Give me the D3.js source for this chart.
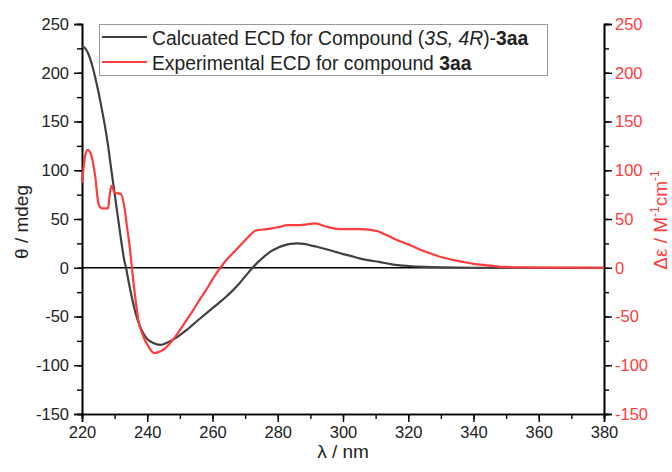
<!DOCTYPE html>
<html lang="en">
<head>
    <meta charset="UTF-8">
    <script src="https://cdn.jsdelivr.net/npm/d3@7/dist/d3.min.js"></script>
    <title>ECD spectra</title>
    <style>
        * { margin: 0; padding: 0; box-sizing: border-box; }
        body, html { width: 672px; height: 472px; background: #fff; }
        svg { font-family: "Liberation Sans", Arial, sans-serif; }
    </style>
</head>
<body>
    <svg id="chart" width="672" height="472"></svg>
    <script type="text/javascript">
      // calculated ECD, (3S,4R)-3aa  [wavelength nm, theta mdeg]
      var calcWl  = [220, 221, 222, 223, 224, 225, 226, 227, 228, 229, 230, 231, 232, 233, 233.5, 234, 235, 236, 237, 238, 239, 240, 242, 244, 246, 248, 250, 252, 254, 256, 258, 260, 262, 264, 266, 268, 270, 272, 274, 276, 278, 280, 282, 284, 286, 288, 290, 292, 294, 296, 298, 300, 302, 305, 308, 311, 315, 320, 325, 330, 340, 360, 380];
      var calcVal = [227, 225, 219, 209, 196, 181, 164, 146, 125, 100, 76, 52, 28, 7, 0, -9, -26, -41, -53, -62, -68.5, -73, -77.5, -79, -77, -73.5, -69, -64, -58.3, -52.6, -47, -41.5, -36, -30.3, -24, -17, -9, -1, 6, 12, 17, 20.5, 23, 24.5, 25, 24.5, 23, 21.5, 19.8, 18, 16, 14, 12.5, 9.6, 7.5, 6, 3.5, 1.8, 0.8, 0.3, 0, 0, 0];

      // experimental ECD, 3aa  [wavelength nm, delta epsilon]
      var expWl  = [220, 221, 221.7, 222.8, 224, 225.1, 226.1, 228, 228.4, 229, 230, 232, 233, 233.8, 234.6, 235.3, 236.3, 237.3, 238.4, 240.4, 242.2, 243, 245.5, 248.6, 250, 252, 254, 256, 258, 260, 262.4, 264, 266, 268, 270.5, 272, 273.1, 276.7, 280.8, 282.8, 286.9, 289, 291.5, 295, 299.1, 305.3, 310.4, 313, 316.5, 320, 323, 326.7, 330, 333, 336.8, 340, 344, 347, 350, 355, 360, 380];
      var expVal = [87, 115, 121, 116, 95, 65, 61, 61, 72, 84, 77, 75.5, 62, 42, 22, 0, -30, -54, -67, -81, -87.5, -87, -82.6, -70.7, -64, -54, -44, -33, -23, -12, 0, 7, 14, 21, 30, 35, 38, 39.7, 42, 43.8, 43.8, 44.5, 45.5, 42, 39.7, 39.7, 37.7, 34, 28.5, 24, 19.5, 14.8, 11, 8.5, 6, 4, 2.5, 1.5, 0.8, 0.3, 0.1, 0];

      var xTicks = [220, 240, 260, 280, 300, 320, 340, 360, 380];
      var yTicks = [-150, -100, -50, 0, 50, 100, 150, 200, 250];

      var red = '#ff3b3b';
      var dark = '#404040';

      var svg = d3.select('#chart');
      var m = { left: 82, right: 604, top: 24, bottom: 414 };

      var x = d3.scaleLinear().domain([220, 380]).range([m.left, m.right]);
      var y = d3.scaleLinear().domain([-150, 250]).range([m.bottom, m.top]);
      var y2 = d3.scaleLinear().domain([-150, 250]).range([m.bottom, m.top]);

      var minorX = d3.range(220, 381, 10);
      var minorY = d3.range(-150, 251, 25);
      var fmt = function (d) { return String(d); };

      function styleAxis(g, color) {
        g.selectAll('.domain').attr('stroke', '#000').attr('stroke-width', 1.6);
        g.selectAll('.tick line').attr('stroke', '#000').attr('stroke-width', 1.4);
        g.selectAll('.tick text').attr('fill', color).attr('font-size', 16.5);
      }

      // minor ticks first
      svg.append('g').attr('transform', 'translate(0,' + m.bottom + ')')
        .call(d3.axisBottom(x).tickValues(minorX).tickSize(5).tickFormat(''))
        .call(function (g) { styleAxis(g, '#000'); });
      svg.append('g').attr('transform', 'translate(' + m.left + ',0)')
        .call(d3.axisLeft(y).tickValues(minorY).tickSize(5).tickFormat(''))
        .call(function (g) { styleAxis(g, '#000'); });
      svg.append('g').attr('transform', 'translate(' + m.right + ',0)')
        .call(d3.axisRight(y2).tickValues(minorY).tickSize(5).tickFormat(''))
        .call(function (g) { styleAxis(g, '#000'); });

      var gx = svg.append('g').attr('transform', 'translate(0,' + m.bottom + ')')
        .call(d3.axisBottom(x).tickValues(xTicks).tickSize(8).tickPadding(4).tickFormat(fmt));
      styleAxis(gx, '#222');

      var gy = svg.append('g').attr('transform', 'translate(' + m.left + ',0)')
        .call(d3.axisLeft(y).tickValues(yTicks).tickSize(8).tickPadding(5).tickFormat(fmt));
      styleAxis(gy, '#222');

      var gy2 = svg.append('g').attr('transform', 'translate(' + m.right + ',0)')
        .call(d3.axisRight(y2).tickValues(yTicks).tickSize(8).tickPadding(3).tickFormat(fmt));
      styleAxis(gy2, red);

      // zero line
      svg.append('line')
        .attr('x1', x(220)).attr('x2', x(380))
        .attr('y1', y(0)).attr('y2', y(0))
        .attr('stroke', '#000').attr('stroke-width', 1.3);

      var calcLine = d3.line()
        .x(function (d, i) { return x(calcWl[i]); })
        .y(function (d) { return y(d); })
        .curve(d3.curveMonotoneX);

      var expLine = d3.line()
        .x(function (d, i) { return x(expWl[i]); })
        .y(function (d) { return y2(d); })
        .curve(d3.curveMonotoneX);

      svg.append('path').datum(calcVal)
        .attr('d', calcLine).attr('fill', 'none')
        .attr('stroke', dark).attr('stroke-width', 2.2);

      svg.append('path').datum(expVal)
        .attr('d', expLine).attr('fill', 'none')
        .attr('stroke', red).attr('stroke-width', 2.2);

      // axis titles
      svg.append('text')
        .attr('transform', 'translate(28,222) rotate(-90)')
        .attr('text-anchor', 'middle').attr('font-size', 19).attr('fill', '#222')
        .text('θ / mdeg');

      svg.append('text')
        .attr('x', 343).attr('y', 458)
        .attr('text-anchor', 'middle').attr('font-size', 19).attr('fill', '#222')
        .text('λ / nm');

      var rt = svg.append('text')
        .attr('transform', 'translate(667,220) rotate(-90)')
        .attr('text-anchor', 'middle').attr('font-size', 19).attr('fill', red);
      rt.append('tspan').text('Δε / M');
      rt.append('tspan').attr('font-size', 12).attr('dy', -8).text('-1');
      rt.append('tspan').attr('dy', 8).text('cm');
      rt.append('tspan').attr('font-size', 12).attr('dy', -8).text('-1');

      // legend
      var lg = svg.append('g');
      lg.append('rect')
        .attr('x', 99.5).attr('y', 24.5).attr('width', 448).attr('height', 51)
        .attr('fill', '#fff').attr('stroke', '#999').attr('stroke-width', 1);

      lg.append('line').attr('x1', 102).attr('x2', 147).attr('y1', 37).attr('y2', 37)
        .attr('stroke', dark).attr('stroke-width', 2.2);
      lg.append('line').attr('x1', 102).attr('x2', 147).attr('y1', 62).attr('y2', 62)
        .attr('stroke', red).attr('stroke-width', 2.2);

      var t1 = lg.append('text').attr('x', 152).attr('y', 44.5).attr('font-size', 19.3).attr('fill', '#222');
      t1.append('tspan').text('Calcuated ECD for Compound (');
      t1.append('tspan').attr('font-style', 'italic').text('3S, 4R');
      t1.append('tspan').text(')-');
      t1.append('tspan').attr('font-weight', 'bold').text('3aa');

      var t2 = lg.append('text').attr('x', 152).attr('y', 69.5).attr('font-size', 19.3).attr('fill', '#222');
      t2.append('tspan').text('Experimental ECD for compound ');
      t2.append('tspan').attr('font-weight', 'bold').text('3aa');
    </script>
</body>
</html>
